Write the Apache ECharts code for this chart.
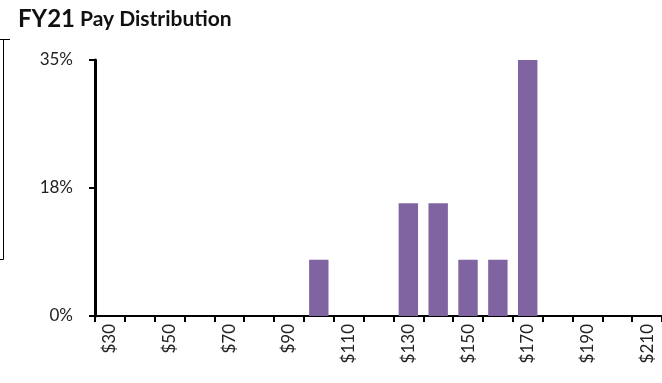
<!DOCTYPE html>
<html>
<head>
<meta charset="utf-8">
<script src="https://cdn.jsdelivr.net/npm/echarts@6/dist/echarts.min.js"></script>
<style>
  html, body { margin: 0; padding: 0; background: #fff; }
  #chart { width: 662px; height: 383px; }
</style>
</head>
<body>
<div id="chart"></div>
<script>
// Pay bands (x axis) and share of staff in each band
const payBands = ['$30','$40','$50','$60','$70','$80','$90','$100','$110','$120',
                  '$130','$140','$150','$160','$170','$180','$190','$200','$210'];
const shareOfStaff = [0, 0, 0, 0, 0, 0, 0, 0.077, 0, 0,
                      0.154, 0.154, 0.077, 0.077, 0.35, 0, 0, 0, 0];
const yMax = 0.35;
const yStep = 0.175;

const font = 'Lato, "Open Sans", sans-serif';
const chart = echarts.init(document.getElementById('chart'));
chart.setOption({
  animation: false,
  backgroundColor: '#fff',
  title: {
    text: '{big|FY21} {small|Pay Distribution}',
    left: 13, top: 2,
    textStyle: {
      rich: {
        big: { fontFamily: font, fontWeight: 'bold', fontSize: 24, color: '#111' },
        small: { fontFamily: font, fontWeight: 'bold', fontSize: 21, color: '#111' }
      }
    }
  },
  graphic: [
    { type: 'polyline', silent: true,
      shape: { points: [[0, 39.5], [10, 39.5]] },
      style: { stroke: '#000', lineWidth: 1 } },
    { type: 'polyline', silent: true,
      shape: { points: [[3.5, 39], [3.5, 259.5], [0, 259.5]] },
      style: { stroke: '#000', lineWidth: 1, fill: null } }
  ],
  grid: { left: 95, right: 0, top: 60, bottom: 67, containLabel: false },
  xAxis: {
    type: 'category',
    data: payBands,
    boundaryGap: true,
    axisLine: { lineStyle: { color: '#000', width: 2 } },
    axisTick: { show: true, interval: 0, length: 6, lineStyle: { color: '#000', width: 2 } },
    axisLabel: {
      interval: 1, rotate: 90, margin: 8,
      fontFamily: font, fontSize: 17, color: '#222'
    }
  },
  yAxis: {
    type: 'value',
    min: 0, max: yMax, interval: yStep,
    splitLine: { show: false },
    axisLine: { show: true, lineStyle: { color: '#000', width: 3 } },
    axisTick: { show: true, length: 6, lineStyle: { color: '#000', width: 2 } },
    axisLabel: {
      margin: 22,
      fontFamily: font, fontSize: 17, color: '#222',
      formatter: v => Math.round(v * 100) + '%'
    }
  },
  series: [{
    type: 'bar',
    data: shareOfStaff,
    barCategoryGap: '35%',
    itemStyle: { color: '#8064A2' }
  }]
});
</script>
</body>
</html>
